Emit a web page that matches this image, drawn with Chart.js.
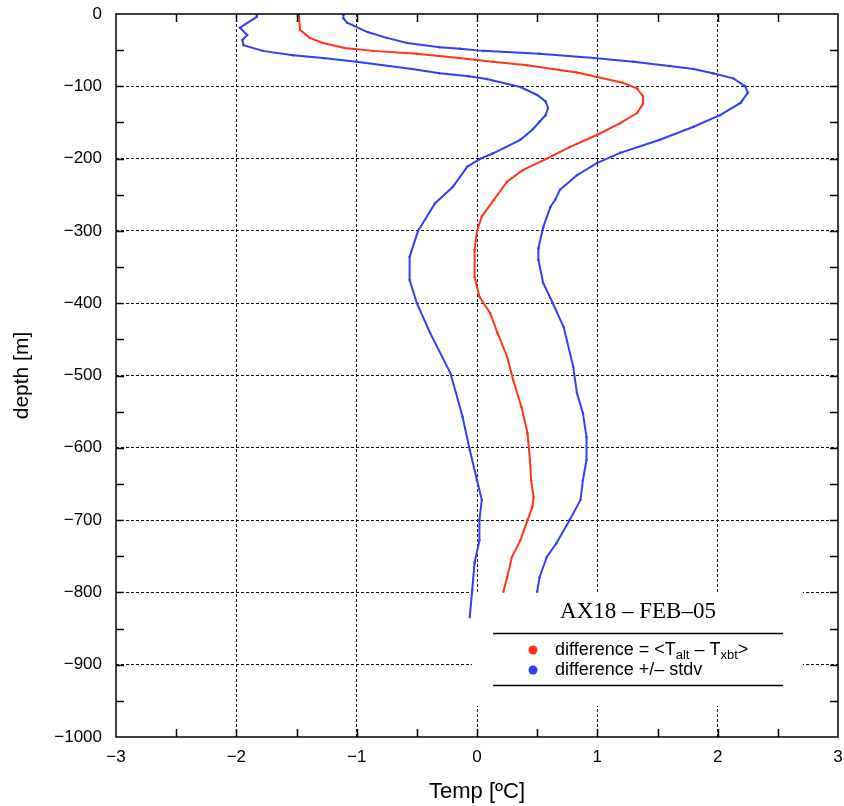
<!DOCTYPE html>
<html>
<head>
<meta charset="utf-8">
<script src="https://cdn.jsdelivr.net/npm/chart.js@4"></script>
<style>
  html, body { margin: 0; padding: 0; background: #fff; }
  #wrap { width: 844px; height: 806px; }
</style>
</head>
<body>
<div id="wrap"><canvas id="chart" width="844" height="806"></canvas></div>
<script>
// 平均差 (depth [m], temp [ºC])
const meanDepth = [-1, -4, -22, -33, -40, -47, -51, -55, -61, -66, -71, -76, -81, -87, -95, -103, -114, -124, -137, -151, -167, -184, -200, -216, -232, -257, -280, -300, -326, -364, -391, -414, -441, -474, -506, -544, -580, -617, -645, -668, -682, -700, -728, -751, -779, -799];
const meanTemp = [-1.48, -1.48, -1.47, -1.39, -1.28, -1.10, -0.86, -0.50, -0.15, 0.13, 0.42, 0.63, 0.83, 1.0, 1.21, 1.33, 1.38, 1.38, 1.33, 1.19, 1.0, 0.77, 0.58, 0.38, 0.25, 0.14, 0.04, 0.0, -0.02, -0.02, 0.02, 0.11, 0.17, 0.25, 0.30, 0.37, 0.42, 0.44, 0.45, 0.47, 0.46, 0.42, 0.36, 0.29, 0.25, 0.22];

// 平均 - stdv
const lowDepth = [-1, -4, -19, -29, -36, -43, -51, -57, -61, -66, -76, -82, -86, -90, -101, -112, -121, -130, -140, -149, -160, -174, -193, -200, -211, -239, -262, -300, -336, -368, -400, -441, -497, -557, -603, -645, -672, -700, -728, -759, -797, -834];
const lowTemp = [-1.83, -1.83, -1.97, -1.91, -1.95, -1.94, -1.78, -1.53, -1.28, -1.0, -0.54, -0.31, -0.07, 0.08, 0.36, 0.50, 0.57, 0.59, 0.57, 0.52, 0.46, 0.36, 0.13, 0.03, -0.08, -0.2, -0.35, -0.49, -0.56, -0.56, -0.50, -0.39, -0.22, -0.12, -0.06, 0.0, 0.04, 0.02, 0.02, -0.02, -0.04, -0.06];

// 平均 + stdv
const highDepth = [-1, -6, -12, -25, -33, -40, -46, -48, -51, -55, -61, -66, -72, -76, -82, -89, -100, -109, -123, -140, -156, -174, -192, -206, -223, -243, -257, -267, -295, -324, -340, -372, -400, -433, -488, -524, -552, -585, -617, -645, -672, -700, -732, -751, -779, -799];
const highTemp = [-1.11, -1.11, -1.08, -0.91, -0.75, -0.58, -0.31, -0.14, 0.05, 0.52, 0.97, 1.30, 1.60, 1.80, 1.96, 2.13, 2.23, 2.25, 2.19, 2.02, 1.80, 1.52, 1.19, 1.0, 0.83, 0.69, 0.65, 0.61, 0.55, 0.51, 0.51, 0.55, 0.63, 0.72, 0.80, 0.83, 0.88, 0.91, 0.91, 0.88, 0.86, 0.77, 0.66, 0.58, 0.52, 0.50];

const xTicks = [-3, -2, -1, 0, 1, 2, 3];
const yTicks = [0, -100, -200, -300, -400, -500, -600, -700, -800, -900, -1000];

const RED = '#ff3418';
const BLUE = '#3040f4';
const FONT = '"Liberation Sans", Arial, Helvetica, sans-serif';

function toPoints(temps, depths) {
  return temps.map((t, i) => ({ x: t, y: depths[i] }));
}

function fmt(v) {
  return String(v).replace('-', '\u2212');
}

// 凡例ボックス（白背景でグリッドを隠す）
const legendBox = {
  id: 'legendBox',
  beforeDatasetsDraw(chart) {
    const ctx = chart.ctx;
    ctx.save();
    ctx.fillStyle = '#fff';
    ctx.fillRect(472, 592, 331, 114);
    ctx.restore();
  },
  afterDatasetsDraw(chart) {
    const ctx = chart.ctx;
    ctx.save();
    ctx.fillStyle = '#000';
    ctx.textAlign = 'center';
    ctx.textBaseline = 'alphabetic';
    ctx.font = '23px "Liberation Serif", "Times New Roman", serif';
    ctx.fillText('AX18 \u2013 FEB\u201305', 638, 618);

    ctx.strokeStyle = '#000';
    ctx.lineWidth = 1.5;
    ctx.beginPath();
    ctx.moveTo(493, 633.5); ctx.lineTo(783, 633.5);
    ctx.moveTo(493, 685.5); ctx.lineTo(783, 685.5);
    ctx.stroke();

    ctx.fillStyle = RED;
    ctx.beginPath(); ctx.arc(533, 650, 4.5, 0, Math.PI * 2); ctx.fill();
    ctx.fillStyle = BLUE;
    ctx.beginPath(); ctx.arc(533, 670, 4.5, 0, Math.PI * 2); ctx.fill();

    ctx.fillStyle = '#000';
    ctx.textAlign = 'left';
    const big = '18px ' + FONT;
    const small = '13px ' + FONT;
    let x = 555;
    const parts = [
      ['difference = <T', big, 655],
      ['alt', small, 659],
      [' \u2013 T', big, 655],
      ['xbt', small, 659],
      ['>', big, 655]
    ];
    parts.forEach(p => {
      ctx.font = p[1];
      ctx.fillText(p[0], x, p[2]);
      x += ctx.measureText(p[0]).width;
    });
    ctx.font = big;
    ctx.fillText('difference +/\u2013 stdv', 555, 675);
    ctx.restore();
  }
};

// 枠と内向きの目盛り
const frameTicks = {
  id: 'frameTicks',
  afterDraw(chart) {
    const { ctx, chartArea: a, scales } = chart;
    const xs = scales.x, ys = scales.y;
    ctx.save();
    ctx.strokeStyle = '#000';
    ctx.lineWidth = 1.5;
    ctx.beginPath();
    for (let v = -2.5; v <= 2.5; v += 0.5) {
      const px = Math.round(xs.getPixelForValue(v)) + 0.5;
      ctx.moveTo(px, a.bottom); ctx.lineTo(px, a.bottom - 8);
      ctx.moveTo(px, a.top); ctx.lineTo(px, a.top + 8);
    }
    for (let v = -950; v <= -50; v += 50) {
      const py = Math.round(ys.getPixelForValue(v)) + 0.5;
      ctx.moveTo(a.left, py); ctx.lineTo(a.left + 8, py);
      ctx.moveTo(a.right, py); ctx.lineTo(a.right - 8, py);
    }
    ctx.stroke();
    ctx.strokeRect(a.left, a.top, a.right - a.left, a.bottom - a.top);
    ctx.restore();
  }
};

const gridColor = (lo, hi) => c => {
  const v = c.tick ? c.tick.value : null;
  return (v === lo || v === hi) ? 'rgba(0,0,0,0)' : '#111';
};

new Chart(document.getElementById('chart').getContext('2d'), {
  type: 'scatter',
  data: {
    datasets: [
      { label: 'mean', data: toPoints(meanTemp, meanDepth), borderColor: RED, backgroundColor: RED },
      { label: 'low', data: toPoints(lowTemp, lowDepth), borderColor: BLUE, backgroundColor: BLUE },
      { label: 'high', data: toPoints(highTemp, highDepth), borderColor: BLUE, backgroundColor: BLUE }
    ].map(d => Object.assign(d, {
      showLine: true,
      borderWidth: 2,
      pointRadius: 1.2,
      pointBorderWidth: 0,
      tension: 0
    }))
  },
  options: {
    responsive: false,
    animation: false,
    devicePixelRatio: 1,
    layout: { padding: { top: 14, right: 6, left: 0, bottom: 0 } },
    plugins: { legend: { display: false }, tooltip: { enabled: false } },
    scales: {
      x: {
        type: 'linear',
        min: -3, max: 3,
        afterBuildTicks: s => { s.ticks = xTicks.map(v => ({ value: v })); },
        afterFit: s => { s.height = 69; s.paddingLeft = 0; s.paddingRight = 0; },
        border: { display: false, dash: [3, 2] },
        grid: { color: gridColor(-3, 3), lineWidth: 1, drawTicks: false },
        ticks: { padding: 10, color: '#000', font: { family: FONT, size: 17 }, callback: v => fmt(v) },
        title: { display: true, text: 'Temp [ºC]', color: '#000', font: { family: FONT, size: 22 }, padding: { top: 0, bottom: 1 } }
      },
      y: {
        type: 'linear',
        min: -1000, max: 0,
        afterBuildTicks: s => { s.ticks = yTicks.map(v => ({ value: v })); },
        afterFit: s => { s.width = 116; s.paddingTop = 0; s.paddingBottom = 0; },
        border: { display: false, dash: [3, 2] },
        grid: { color: gridColor(-1000, 0), lineWidth: 1, drawTicks: false },
        ticks: { padding: 14, color: '#000', font: { family: FONT, size: 17 }, callback: v => fmt(v) },
        title: { display: true, text: 'depth [m]', color: '#000', font: { family: FONT, size: 21 }, padding: { top: 10, bottom: 0 } }
      }
    }
  },
  plugins: [legendBox, frameTicks]
});
</script>
</body>
</html>
